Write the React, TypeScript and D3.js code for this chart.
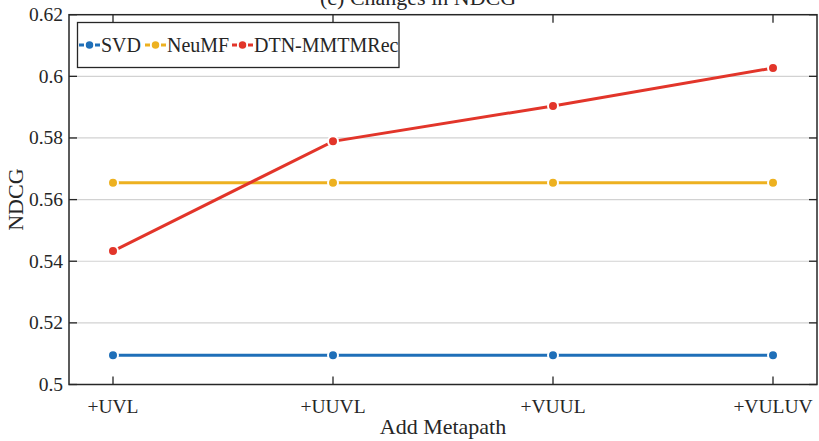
import React, { useEffect, useRef } from 'react';
import * as d3 from 'd3';

const metapaths = ['+UVL', '+UUVL', '+VUUL', '+VULUV'];
const svdValues = [0.5095, 0.5095, 0.5095, 0.5095];
const neumfValues = [0.5655, 0.5655, 0.5655, 0.5655];
const dtnValues = [0.5433, 0.5789, 0.5904, 0.6027];
const yTicks = [0.5, 0.52, 0.54, 0.56, 0.58, 0.6, 0.62];
const yTickLabels = ['0.5', '0.52', '0.54', '0.56', '0.58', '0.6', '0.62'];

const seriesList = [
  { name: 'SVD', values: svdValues, color: '#1f6fb8' },
  { name: 'NeuMF', values: neumfValues, color: '#edb120' },
  { name: 'DTN-MMTMRec', values: dtnValues, color: '#e2352a' },
];

const App = () => {
  const svgRef = useRef<SVGSVGElement | null>(null);

  useEffect(() => {
    const W = 819;
    const H = 441;
    const left = 69, right = 817, top = 14.7, bottom = 384.5;
    const font = '"Liberation Serif", "Times New Roman", serif';

    const svg = d3.select(svgRef.current)
      .attr('width', W)
      .attr('height', H)
      .style('background', '#fff')
      .html('');

    const x = d3.scalePoint<string>().domain(metapaths).range([left, right]).padding(0.2);
    const y = d3.scaleLinear().domain([0.5, 0.62]).range([bottom, top]);

    // title (clipped at top)
    svg.append('text')
      .attr('x', 320)
      .attr('y', 5)
      .style('font-family', font)
      .style('font-size', '22px')
      .style('fill', '#262626')
      .text('(c) Changes in NDCG');

    // grid lines
    svg.append('g')
      .selectAll('line')
      .data(yTicks.slice(1, -1))
      .join('line')
      .attr('x1', left)
      .attr('x2', right)
      .attr('y1', d => y(d))
      .attr('y2', d => y(d))
      .attr('stroke', '#d2d2d2')
      .attr('stroke-width', 1.2);

    // frame
    svg.append('rect')
      .attr('x', left)
      .attr('y', top)
      .attr('width', right - left)
      .attr('height', bottom - top)
      .attr('fill', 'none')
      .attr('stroke', '#262626')
      .attr('stroke-width', 1.5);

    // ticks inward
    const tickLen = 8;
    const tg = svg.append('g').attr('stroke', '#262626').attr('stroke-width', 1.3);
    yTicks.forEach(v => {
      tg.append('line').attr('x1', left).attr('x2', left + tickLen).attr('y1', y(v)).attr('y2', y(v));
      tg.append('line').attr('x1', right).attr('x2', right - tickLen).attr('y1', y(v)).attr('y2', y(v));
    });
    metapaths.forEach(m => {
      tg.append('line').attr('x1', x(m)!).attr('x2', x(m)!).attr('y1', bottom).attr('y2', bottom - tickLen);
      tg.append('line').attr('x1', x(m)!).attr('x2', x(m)!).attr('y1', top).attr('y2', top + tickLen);
    });

    // y tick labels
    svg.append('g')
      .selectAll('text')
      .data(yTicks)
      .join('text')
      .attr('x', left - 6)
      .attr('y', d => y(d) + 6.5)
      .attr('text-anchor', 'end')
      .style('font-family', font)
      .style('font-size', '19.5px')
      .style('fill', '#262626')
      .text((d, i) => yTickLabels[i]);

    // x tick labels
    svg.append('g')
      .selectAll('text')
      .data(metapaths)
      .join('text')
      .attr('x', d => x(d)!)
      .attr('y', 413)
      .attr('text-anchor', 'middle')
      .style('font-family', font)
      .style('font-size', '19.5px')
      .style('fill', '#262626')
      .text(d => d);

    // axis labels
    svg.append('text')
      .attr('x', (left + right) / 2)
      .attr('y', 434)
      .attr('text-anchor', 'middle')
      .style('font-family', font)
      .style('font-size', '22px')
      .style('fill', '#262626')
      .text('Add Metapath');

    svg.append('text')
      .attr('transform', `translate(23,${(top + bottom) / 2}) rotate(-90)`)
      .attr('text-anchor', 'middle')
      .style('font-family', font)
      .style('font-size', '22px')
      .style('fill', '#262626')
      .text('NDCG');

    // series
    const line = d3.line<number>()
      .x((d, i) => x(metapaths[i])!)
      .y(d => y(d));

    seriesList.forEach(s => {
      const g = svg.append('g');
      g.append('path')
        .datum(s.values)
        .attr('fill', 'none')
        .attr('stroke', s.color)
        .attr('stroke-width', 3)
        .attr('d', line);
      g.selectAll('circle')
        .data(s.values)
        .join('circle')
        .attr('cx', (d, i) => x(metapaths[i])!)
        .attr('cy', d => y(d))
        .attr('r', 5)
        .attr('fill', s.color)
        .attr('stroke', '#fff')
        .attr('stroke-width', 2);
    });

    // legend
    const lg = svg.append('g');
    lg.append('rect')
      .attr('x', 77.5)
      .attr('y', 22.5)
      .attr('width', 321.5)
      .attr('height', 45)
      .attr('fill', '#fff')
      .attr('stroke', '#262626')
      .attr('stroke-width', 1.3);

    const legendX = [79, 145, 232];
    seriesList.forEach((s, i) => {
      const lx = legendX[i];
      const ly = 45;
      lg.append('line')
        .attr('x1', lx)
        .attr('x2', lx + 21)
        .attr('y1', ly)
        .attr('y2', ly)
        .attr('stroke', s.color)
        .attr('stroke-width', 3)
        .attr('stroke-dasharray', '5,3');
      lg.append('circle')
        .attr('cx', lx + 10.5)
        .attr('cy', ly)
        .attr('r', 4.5)
        .attr('fill', s.color)
        .attr('stroke', '#fff')
        .attr('stroke-width', 1.5);
      lg.append('text')
        .attr('x', lx + 22)
        .attr('y', ly + 7)
        .style('font-family', font)
        .style('font-size', '20px')
        .style('fill', '#262626')
        .text(s.name);
    });
  }, []);

  return (
    <div style={{ position: 'absolute', left: 0, top: 0 }}>
      <svg ref={svgRef} style={{ display: 'block' }}></svg>
    </div>
  );
};

export default App;
